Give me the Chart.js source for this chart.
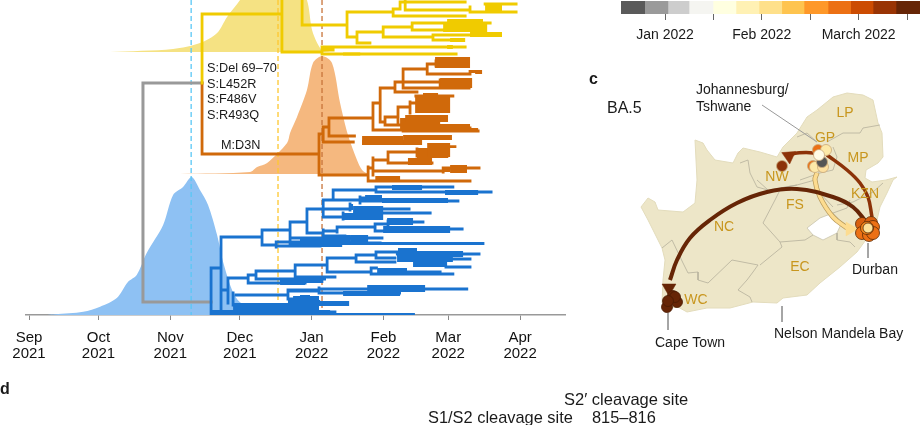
<!DOCTYPE html>
<html>
<head>
<meta charset="utf-8">
<title>BA.4 BA.5 spread</title>
<script src="https://cdn.jsdelivr.net/npm/chart.js@4/dist/chart.umd.min.js"></script>
<style>
  html, body { margin: 0; padding: 0; background: #fff; width: 920px; height: 425px; overflow: hidden; }
  canvas { position: absolute; display: block; }
</style>
</head>
<body>
<canvas id="treeChart" width="920" height="425" style="left:0;top:0"></canvas>
<canvas id="barChart" width="320" height="45" style="left:600px;top:0"></canvas>
<canvas id="mapChart" width="320" height="300" style="left:600px;top:60px"></canvas>
<script>
// x is days since 1 Sep 2021, y is the tip row of the tree (counted from the top)
const monthDays = [0, 30, 61, 91, 122, 153, 181, 212];
const monthLabels = [['Sep', '2021'], ['Oct', '2021'], ['Nov', '2021'], ['Dec', '2021'], ['Jan', '2022'], ['Feb', '2022'], ['Mar', '2022'], ['Apr', '2022']];

const blueDensityDays = [8, 11.2, 23.4, 30.7, 37.9, 42.7, 46.5, 50.8, 57.9, 62.2, 66.5, 70.2, 73.8, 77.3, 81.2, 83.8, 88, 91, 98.5, 104];
const blueDensity = [0, 0.7, 3.3, 8.3, 17, 33, 40, 62, 90, 120, 128, 138, 125, 110, 80, 53, 23, 13, 2, 0];
const orangeDensityDays = [65.2, 95.4, 98.5, 102.8, 111.4, 112.7, 115.7, 120, 122.6, 126.5, 130.8, 134.3, 137.7, 141.6, 143.8, 146.4];
const orangeDensity = [0, 2, 7, 11, 31, 41, 57, 84, 111, 118, 111, 71, 39, 14, 4, 0];
const yellowDensityDays = [35, 62.2, 73.8, 81.2, 85.5, 91.1, 97.6, 106.2, 114.9, 120, 122.2, 124.4, 126.5, 130];
const yellowDensity = [0, 3, 9, 19, 35, 52, 75, 95, 75, 52, 22, 9, 2, 0];

// median tMRCA dates of the three clades
const mrcaDays = [70, 107.5, 126.5];
const mrcaEndRows = [315, 300, 308];

// tree branches: horizontal [from, to, row], vertical [day, rowA, rowB], clusters [from, to, rowA, rowB]
const rootH = [[49.2, 74.7, 83], [49.2, 78.6, 302]];
const rootV = [[49.2, 83, 302]];

const yellowH = [[74.7, 109.2, 14], [109.2, 126.5, 52], [109.2, 117.9, -5], [117.9, 137.3, 25], [137.3, 157.2, 12], [137.3, 141.6, 37],
  [157.2, 160.2, 9], [157.2, 188.3, 16], [162.4, 190.4, 10], [160.2, 188.3, 2], [190.4, 210.3, 12], [196.9, 210.3, 4], [141.6, 147.2, 43], [141.6, 152.9, 32],
  [152.9, 165.4, 27], [152.9, 174.4, 37], [165.4, 180.9, 23], [165.4, 180.5, 30], [196, 199.1, 23], [174.4, 190.4, 35], [174.4, 183.9, 40],
  [126.5, 188.3, 47], [126.5, 184.4, 54], [126.5, 131.3, 50]];
const yellowV = [[74.7, 14, 83], [109.2, -5, 52], [117.9, -5, 25], [137.3, 12, 37], [141.6, 32, 43], [152.9, 27, 37], [165.4, 23, 30], [174.4, 35, 40],
  [190.4, 7, 12], [157.2, 9, 16], [160.2, 2, 9], [162.4, -2, 10], [126.5, 47, 54]];
const yellowClusters = [[180.5, 196, 19, 23], [178.8, 197.8, 23, 32], [190.4, 204.2, 32, 37], [181.8, 188.3, 38, 42], [196.9, 204.2, 3, 12], [135.6, 143, 52.5, 55.5], [180.5, 183, 45, 49]];

const orangeH = [[74.7, 125.2, 154], [125.2, 127, 134], [125.2, 146.4, 175], [127, 129.5, 127], [127, 140, 142], [129.5, 148.5, 118], [129.5, 140.5, 136],
  [148.5, 151.6, 103], [148.5, 161.5, 130], [151.6, 158, 88], [151.6, 153.7, 122], [153.7, 159.3, 117], [153.7, 162.4, 125],
  [158, 161.5, 82], [158, 167.5, 92], [161.5, 171.9, 69], [161.5, 177.5, 82], [161.5, 190, 88],
  [171.9, 175.7, 64], [171.9, 190.4, 74], [190.4, 194.7, 71.5], [177.5, 190.4, 80],
  [159.3, 164.5, 107], [164.5, 167, 103], [167, 183, 96], [161.5, 193.9, 131], [184, 190.4, 128],
  [148.5, 155, 160], [155, 167.5, 152], [155, 174, 163], [167.5, 172, 150], [167.5, 180.5, 156], [180, 183.9, 146.7],
  [146.4, 148.5, 168], [148.5, 178.8, 171], [178.8, 194.3, 168], [146.4, 190.4, 181]];
const orangeV = [[74.7, 83, 154], [125.2, 134, 175], [127, 127, 142], [129.5, 118, 136], [148.5, 103, 130], [151.6, 88, 122], [153.7, 117, 125], [158, 82, 92],
  [161.5, 70, 88], [171.9, 64, 74], [175.7, 61, 66], [177.5, 80, 85], [159.3, 107, 122], [164.5, 102, 113], [148.5, 158, 175], [155, 152, 163],
  [167.5, 149, 156], [146.4, 167, 181], [178.8, 168, 172]];
const orangeClusters = [[175.3, 190.4, 57, 68], [177.5, 191.3, 78, 88], [192.6, 195.6, 70, 74], [170.1, 176.6, 93, 97], [166.7, 181.8, 97, 113], [162.4, 180.9, 115, 122],
  [160.2, 177.5, 118, 130], [169.7, 190.4, 124, 130], [161.5, 193.9, 128, 132], [143.8, 161.5, 136, 145], [161.5, 182.6, 135, 140], [143.8, 169.7, 140, 145],
  [171.9, 181.8, 143, 157], [167.5, 180.9, 148, 158], [163.6, 174, 158, 165], [181.8, 189.1, 165, 173], [178.8, 182, 167, 172], [149.5, 160.2, 176, 180]];

const blueH = [[78.6, 82.9, 268], [82.9, 100.6, 237], [100.6, 112.7, 230], [100.6, 106.7, 245], [106.7, 125.7, 242], [106.7, 125.7, 246],
  [112.7, 120, 222], [120, 127, 209], [120, 127, 233],
  [127, 131.3, 200], [131.3, 149.8, 190], [131.3, 142.9, 200], [149.8, 183, 187], [149.8, 199.5, 192], [142.9, 145.1, 198], [142.9, 185.2, 201],
  [127, 138.6, 209], [127, 135.6, 217], [152.9, 164.1, 209], [152.9, 173.2, 213],
  [127, 133, 231], [133, 149.4, 227], [149.4, 155, 224], [149.4, 152.9, 231], [165.8, 170.1, 222], [181.8, 187, 229],
  [127, 136.4, 236], [112.7, 152.4, 238], [112.7, 151.6, 243], [112.7, 196, 243.5],
  [82.9, 85.9, 290], [85.9, 94.6, 278], [94.6, 98, 275], [94.6, 119.2, 283], [98, 114.9, 271], [98, 127.6, 279], [114.9, 128.7, 265], [114.9, 132.1, 277],
  [128.7, 141.2, 258], [128.7, 147.7, 272], [141.2, 149.8, 255], [141.2, 158, 262], [149.8, 159, 252], [149.8, 158, 258], [159, 194.3, 254], [183, 190.4, 259], [180, 190.4, 267],
  [147.7, 150, 268], [147.7, 177.5, 274], [163, 177.5, 272], [177, 183, 274],
  [112.7, 125.2, 290], [125.2, 189, 289], [125.2, 160, 293],
  [89.4, 111.8, 295], [111.8, 124.8, 291], [111.8, 120, 299], [125.2, 132.1, 312], [78.6, 166, 314.5]];
const blueV = [[78.6, 268, 315], [82.9, 237, 314], [100.6, 230, 245], [106.7, 242, 247], [112.7, 222, 243], [120, 209, 233], [127, 200, 217], [131.3, 190, 200], [142.9, 197, 203],
  [149.8, 187, 192], [138.6, 204, 210], [135.6, 213, 219], [127, 230, 236], [133, 227, 232], [149.4, 224, 231], [155, 221, 226],
  [85.9, 278, 303], [94.6, 275, 283], [98, 271, 279], [114.9, 265, 277], [128.7, 258, 272], [141.2, 255, 262], [149.8, 252, 258], [147.7, 268, 274], [125.2, 288, 293], [88.1, 293, 305], [111.8, 290, 299]];
const blueClusters = [[145.1, 152.4, 195, 202], [152.4, 180.9, 198, 203], [156.7, 169.7, 185, 190], [179.6, 193.9, 190, 195],
  [139.9, 152.9, 206, 213], [138.6, 139.9, 204, 210], [135.6, 152.9, 213, 220], [154.6, 165.8, 218, 225], [152.9, 181.8, 226, 233],
  [127, 138.6, 235, 245], [138.6, 146.4, 235, 243], [117, 135.2, 238, 247],
  [159.3, 167.5, 248, 252], [158.9, 187.4, 251, 257], [158.9, 183, 255, 262], [165.8, 180.5, 262, 267], [150.3, 163.2, 268, 273],
  [108.4, 119.2, 278, 285], [108.4, 127, 278, 283], [117, 127, 277, 283],
  [146, 171, 285, 292], [135.6, 160.2, 291, 296], [117, 125.2, 296, 313], [117, 121.3, 295, 300], [125.2, 138.2, 301, 306], [125.2, 132.1, 311, 314],
  [78.6, 130, 310, 315], [88.1, 125, 303, 310], [111.8, 125.7, 300, 305], [114, 121.3, 296, 302]];

// colour bar: months after 1 Jan 2022
const barEdges = [-0.458, -0.21, 0.03, 0.248, 0.496, 0.733, 0.971, 1.206, 1.436, 1.684, 1.918, 2.149, 2.386, 2.634];
const barColours = ['#5a5a5a', '#9a9a9a', '#cdcdcd', '#f5f5f1', '#ffffe0', '#fff1b4', '#fee08a', '#fec44f', '#fe9829', '#ec7014', '#cc4c02', '#993404', '#662506'];
const barTicks = [0, 0.5, 1, 1.5, 2, 2.5];
const barTickLabels = ['Jan 2022', '', 'Feb 2022', '', 'March 2022', ''];

// map grid units
const countryX = [641, 648, 655, 658, 683, 695, 697, 695, 703, 707, 715, 733, 738, 743, 760, 777, 783, 797, 807, 817, 833, 847, 863, 873, 878, 882, 883, 878, 866, 865, 872, 886, 897, 893, 887, 880, 877, 868, 857, 840, 820, 807, 783, 777, 753, 730, 707, 687, 678, 670, 662, 663, 665, 662, 657, 648, 641];
const countryY = [207, 198, 202, 210, 212, 203, 180, 140, 143, 150, 160, 163, 153, 148, 152, 157, 147, 133, 117, 110, 97, 93, 95, 100, 123, 133, 157, 163, 170, 178, 182, 180, 177, 180, 193, 207, 220, 237, 252, 267, 283, 295, 298, 303, 302, 308, 308, 312, 307, 308, 303, 280, 260, 248, 238, 220, 207];
const lesothoX = [807, 820, 833, 842, 837, 823, 813, 807];
const lesothoY = [228, 218, 213, 222, 233, 240, 235, 228];
const provinceLinesX = [
  [662, 672, 683, 688, 698, 698, 708, 732, 758, 753, 747, 738, 750, 752],
  [763, 780, 782, 760],
  [763, 775, 781, 797],
  [757, 768, 797, 815, 820],
  [780, 805, 813],
  [837, 837, 850, 855],
  [833, 847, 850],
  [837, 853, 873, 883],
  [817, 833],
  [740, 748, 750, 757, 768],
  [797, 807, 817],
  [827, 843, 860, 863, 880],
  [833, 837, 833, 820, 800]
];
const provinceLinesY = [
  [248, 240, 263, 273, 272, 280, 283, 260, 265, 272, 280, 290, 297, 302],
  [223, 242, 247, 265],
  [223, 200, 188, 185],
  [180, 190, 185, 180, 170],
  [242, 240, 235],
  [233, 240, 242, 247],
  [213, 208, 200],
  [205, 202, 192, 183],
  [190, 207],
  [163, 160, 173, 187, 190],
  [137, 133, 142],
  [142, 133, 133, 128, 125],
  [147, 157, 170, 173, 180]
];
const leaderLinesX = [[668, 668], [868, 868], [782, 782], [762, 817]];
const leaderLinesY = [[313, 330], [243, 258], [306, 322], [105, 142]];

const capeArcX = [867, 853, 833, 797, 767, 737, 710, 690, 677, 670];
const capeArcY = [223, 207, 197, 189, 192, 203, 220, 238, 260, 280];
const durbanArcX = [827, 847, 860, 868, 872];
const durbanArcY = [155, 170, 183, 197, 217];
const westArcX = [818, 813, 797, 790];
const westArcY = [157, 153, 153, 155];
const paleArcX = [817, 815, 820, 833, 847];
const paleArcY = [173, 180, 197, 217, 228];

const arrowX = [669, 789, 850];
const arrowY = [288, 156, 229];
const arrowAngles = [180, -65, 90];
const arrowColours = ['#662506', '#8c3208', '#fddc90'];

const jobCitiesX = [782, 818, 826, 813, 815, 823, 822, 819];
const jobCitiesY = [166, 150, 150, 166, 167, 167, 162, 155];
const jobCitiesColours = ['#8c3208', '#ec7014', '#fde9a8', '#ec7014', '#fde9a8', '#fde0a0', '#555555', '#fffbe6'];
const durbanCitiesX = [862, 871, 873, 862, 869, 873, 867, 868];
const durbanCitiesY = [224, 223, 227, 233, 235, 233, 228, 228];
const durbanCitiesColours = ['#d9600f', '#d9600f', '#ec7014', '#ec7014', '#ec7014', '#ec7014', '#f58a1f', '#fde29a'];
const durbanCitiesSizes = [6.5, 6.5, 6.5, 6.5, 6.5, 6.5, 6.5, 5];
const capeCitiesX = [673, 677, 675, 667, 668];
const capeCitiesY = [296, 302, 297, 307, 301];

const FONT = '"Liberation Sans", Arial, sans-serif';
const BLUE = '#1a73cf', ORANGE = '#d0690a', YELLOW = '#f0cb00';

function treeLines(h, v, colour, width, order) {
  const data = [];
  h.forEach(b => data.push({ x: b[0], y: b[2] }, { x: b[1], y: b[2] }, { x: b[1], y: null }));
  v.forEach(b => data.push({ x: b[0], y: b[1] }, { x: b[0], y: b[2] }, { x: b[0], y: null }));
  return { data, showLine: true, borderColor: colour, borderWidth: width, borderCapStyle: 'square', order };
}

// a cluster of tips too close to tell apart is one wide stroke, one row is one pixel high
function clusters(list, colour) {
  return list.map(c => ({
    data: [{ x: c[0], y: (c[2] + c[3]) / 2 }, { x: c[1], y: (c[2] + c[3]) / 2 }],
    showLine: true, borderColor: colour, borderWidth: c[3] - c[2], order: 1
  }));
}

function density(days, heights, baseRow, colour) {
  return {
    data: days.map((d, i) => ({ x: d, y: baseRow - heights[i] })),
    showLine: true, tension: 0.3, borderWidth: 0, fill: { value: baseRow }, backgroundColor: colour, order: 5
  };
}

function textPlugin(items) {
  return {
    id: 'labels',
    afterDraw(chart) {
      const ctx = chart.ctx;
      ctx.save();
      ctx.textBaseline = 'middle';
      items.forEach(t => {
        ctx.font = t[3];
        ctx.fillStyle = t[4] || '#1a1a1a';
        ctx.textAlign = t[5] || 'left';
        ctx.fillText(t[0], t[1], t[2]);
      });
      ctx.restore();
    }
  };
}

const mrcaColours = ['#5ac8f5', '#fdc82f', '#c8743a'];

new Chart(document.getElementById('treeChart'), {
  type: 'scatter',
  data: {
    datasets: [
      density(blueDensityDays, blueDensity, 315, '#8ec1f3'),
      density(orangeDensityDays, orangeDensity, 174, '#f5b87f'),
      density(yellowDensityDays, yellowDensity, 52, '#f5e283'),
      ...mrcaDays.map((d, i) => ({
        data: [{ x: d, y: 0 }, { x: d, y: mrcaEndRows[i] }],
        showLine: true, borderColor: mrcaColours[i], borderWidth: 1.3, borderDash: [5, 3], order: 4
      })),
      treeLines(rootH, rootV, '#999999', 3, 3),
      treeLines(yellowH, yellowV, YELLOW, 2.8, 2),
      treeLines(orangeH, orangeV, ORANGE, 2.8, 2),
      treeLines(blueH, blueV, BLUE, 2.8, 2),
      ...clusters(yellowClusters, YELLOW),
      ...clusters(orangeClusters, ORANGE),
      ...clusters(blueClusters, BLUE)
    ]
  },
  options: {
    responsive: false,
    animation: false,
    events: [],
    layout: { autoPadding: false, padding: { left: 26, right: 355, top: 0, bottom: 53 } },
    elements: { point: { radius: 0 } },
    plugins: { legend: { display: false }, tooltip: { enabled: false } },
    scales: {
      x: {
        type: 'linear', min: -1.3, max: 231.4,
        afterBuildTicks: s => { s.ticks = monthDays.map(v => ({ value: v })); },
        afterFit: s => { s.height = 57; },
        grid: { drawOnChartArea: false, tickLength: 5, tickColor: '#888888', tickWidth: 1 },
        border: { color: '#999999', width: 1.5 },
        ticks: {
          autoSkip: false, maxRotation: 0, padding: 10, color: '#111111',
          font: { family: FONT, size: 15, lineHeight: 1.07 },
          callback: (v, i) => monthLabels[i]
        }
      },
      y: { type: 'linear', display: false, reverse: true, min: 0, max: 315 }
    }
  },
  plugins: [textPlugin([
    ['S:Del 69–70', 207, 68, '12.7px ' + FONT],
    ['S:L452R', 207, 84, '12.7px ' + FONT],
    ['S:F486V', 207, 99, '12.7px ' + FONT],
    ['S:R493Q', 207, 115, '12.7px ' + FONT],
    ['M:D3N', 221, 145, '12.7px ' + FONT],
    ['c', 589, 80, 'bold 16px ' + FONT],
    ['d', 0, 390, 'bold 16px ' + FONT],
    ['S2′ cleavage site', 564, 400.5, '16.5px ' + FONT],
    ['S1/S2 cleavage site', 428, 418, '16.4px ' + FONT],
    ['815–816', 592, 418, '16.4px ' + FONT]
  ])]
});

new Chart(document.getElementById('barChart'), {
  type: 'bar',
  data: {
    labels: ['sampling date'],
    datasets: barColours.map((c, i) => ({
      data: [[barEdges[i], barEdges[i + 1]]], backgroundColor: c, grouped: false,
      barPercentage: 1, categoryPercentage: 1
    }))
  },
  options: {
    indexAxis: 'y',
    responsive: false,
    animation: false,
    events: [],
    layout: { autoPadding: false, padding: { left: 21, right: 0, top: 1, bottom: 0 } },
    plugins: { legend: { display: false }, tooltip: { enabled: false } },
    scales: {
      x: {
        type: 'linear', min: -0.4545, max: 2.634,
        afterBuildTicks: s => { s.ticks = barTicks.map(v => ({ value: v })); },
        afterFit: s => { s.height = 31; },
        grid: { drawOnChartArea: false, tickLength: 6, tickColor: '#666666', tickWidth: 1 },
        border: { display: false },
        ticks: {
          autoSkip: false, maxRotation: 0, padding: 7, color: '#1a1a1a',
          font: { family: FONT, size: 14 },
          callback: (v, i) => barTickLabels[i]
        }
      },
      y: { display: false }
    }
  }
});

function poly(xs, ys) { return xs.map((x, i) => ({ x, y: ys[i] })); }

function arc(xs, ys, colour, width, order) {
  return { data: poly(xs, ys), showLine: true, tension: 0.4, borderColor: colour, borderWidth: width, order };
}

function cities(xs, ys, colours, border, radius, order) {
  return {
    data: poly(xs, ys), showLine: false, pointRadius: radius,
    pointBackgroundColor: colours, pointBorderColor: border, pointBorderWidth: 0.8, order
  };
}

new Chart(document.getElementById('mapChart'), {
  type: 'scatter',
  data: {
    datasets: [
      { data: poly(countryX, countryY), showLine: true, fill: 'shape', backgroundColor: '#ede6c8', borderColor: '#e3dcbc', borderWidth: 1, order: 9 },
      { data: poly(lesothoX, lesothoY), showLine: true, fill: 'shape', backgroundColor: '#ffffff', borderColor: '#c4bea6', borderWidth: 0.7, order: 8 },
      ...provinceLinesX.map((xs, i) => ({ data: poly(xs, provinceLinesY[i]), showLine: true, borderColor: '#b5b09c', borderWidth: 0.8, order: 7 })),
      ...leaderLinesX.map((xs, i) => ({ data: poly(xs, leaderLinesY[i]), showLine: true, borderColor: '#999999', borderWidth: 1, order: 7 })),
      arc(paleArcX, paleArcY, '#b99a5a', 5, 6),
      arc(paleArcX, paleArcY, '#fddc90', 3.5, 5.5),
      arc(capeArcX, capeArcY, '#662506', 4, 5),
      arc(durbanArcX, durbanArcY, '#8c3208', 3.5, 5),
      arc(westArcX, westArcY, '#8c3208', 3.5, 5),
      {
        data: poly(arrowX, arrowY), showLine: false, pointStyle: 'triangle', pointRadius: 8, pointRotation: arrowAngles,
        pointBackgroundColor: arrowColours, pointBorderColor: arrowColours, pointBorderWidth: 0.5, order: 4
      },
      cities(jobCitiesX, jobCitiesY, jobCitiesColours, '#c9a878', 5.5, 3),
      cities(durbanCitiesX, durbanCitiesY, durbanCitiesColours, '#5a2a05', durbanCitiesSizes, 3),
      cities(capeCitiesX, capeCitiesY, capeCitiesX.map(() => '#662506'), '#4a1c04', 5.5, 3)
    ]
  },
  options: {
    responsive: false,
    animation: false,
    events: [],
    layout: { autoPadding: false, padding: 0 },
    elements: { point: { radius: 0 } },
    plugins: { legend: { display: false }, tooltip: { enabled: false } },
    scales: {
      x: { type: 'linear', display: false, min: 600, max: 920 },
      y: { type: 'linear', display: false, reverse: true, min: 60, max: 360 }
    }
  },
  plugins: [textPlugin([
    ['LP', 845, 53, '14px ' + FONT, '#c8961e', 'center'],
    ['GP', 825, 78, '14px ' + FONT, '#c8961e', 'center'],
    ['MP', 858, 98, '14px ' + FONT, '#c8961e', 'center'],
    ['NW', 777, 117, '14px ' + FONT, '#c8961e', 'center'],
    ['KZN', 865, 134, '14px ' + FONT, '#c8961e', 'center'],
    ['FS', 795, 145, '14px ' + FONT, '#c8961e', 'center'],
    ['NC', 724, 167, '14px ' + FONT, '#c8961e', 'center'],
    ['EC', 800, 207, '14px ' + FONT, '#c8961e', 'center'],
    ['WC', 696, 240, '14px ' + FONT, '#c8961e', 'center'],
    ['Johannesburg/', 696, 30, '14px ' + FONT],
    ['Tshwane', 696, 47, '14px ' + FONT],
    ['BA.5', 607, 49, '16px ' + FONT],
    ['Durban', 852, 210, '14px ' + FONT],
    ['Cape Town', 655, 283, '14px ' + FONT],
    ['Nelson Mandela Bay', 774, 274, '14px ' + FONT]
  ].map(t => [t[0], t[1] - 600, t[2], t[3], t[4], t[5]]))]
});
</script>
</body>
</html>
